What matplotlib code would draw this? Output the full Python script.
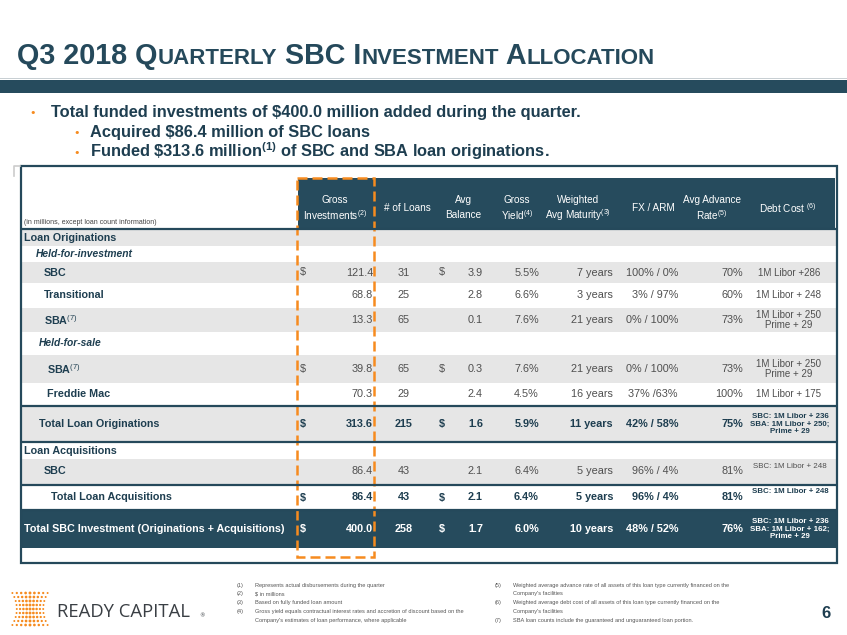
import numpy as np
import matplotlib
matplotlib.use("Agg")
from matplotlib import pyplot as plt
from matplotlib import font_manager
from matplotlib.patches import Rectangle

# ==============================================================================
# DATA
# ==============================================================================
title_pieces = [("Q3 2018 Q", True), ("UARTERLY", False), (" SBC I", True),
                ("NVESTMENT", False), (" A", True), ("LLOCATION", False)]

bullets = [
    "Total funded investments of \\$400.0 million added during the quarter.",
    "Acquired \\$86.4 million of SBC loans",
    "Funded \\$313.6 million$^{\\mathbf{(1)}}$ of SBC and SBA loan originations.",
]

header_labels = ["Gross\nInvestments$^{(2)}$", "# of Loans", "Avg\nBalance", "Gross\nYield$^{(4)}$",
                 "Weighted\nAvg Maturity$^{(3)}$", "FX / ARM", "Avg Advance\nRate$^{(5)}$",
                 "Debt Cost $^{(6)}$"]

row_labels = ["Loan Originations", "Held-for-investment", "SBC", "Transitional", "SBA$^{(7)}$",
              "Held-for-sale", "SBA$^{(7)}$", "Freddie Mac", "Total Loan Originations",
              "Loan Acquisitions", "SBC", "Total Loan Acquisitions",
              "Total SBC Investment (Originations + Acquisitions)"]
row_kind = ["section", "sub", "item", "item", "item", "sub", "item", "item", "total",
            "section", "item", "total", "grand"]

gross_inv = [None, None, 121.4, 68.8, 13.3, None, 39.8, 70.3, 313.6, None, 86.4, 86.4, 400.0]
show_dollar = [False, False, True, False, False, False, True, False, True, False, False, True, True]
num_loans = [None, None, 31, 25, 65, None, 65, 29, 215, None, 43, 43, 258]
avg_balance = [None, None, 3.9, 2.8, 0.1, None, 0.3, 2.4, 1.6, None, 2.1, 2.1, 1.7]
gross_yield = [None, None, 5.5, 6.6, 7.6, None, 7.6, 4.5, 5.9, None, 6.4, 6.4, 6.0]
maturity_years = [None, None, 7, 3, 21, None, 21, 16, 11, None, 5, 5, 10]
fx_arm = [None, None, "100% / 0%", "3% / 97%", "0% / 100%", None, "0% / 100%", "37% /63%",
          "42% / 58%", None, "96% / 4%", "96% / 4%", "48% / 52%"]
advance_rate = [None, None, 70, 60, 73, None, 73, 100, 75, None, 81, 81, 76]
debt_cost = [None, None, "1M Libor +286", "1M Libor + 248", "1M Libor + 250\nPrime + 29", None,
             "1M Libor + 250\nPrime + 29", "1M Libor + 175",
             "SBC: 1M Libor + 236\nSBA: 1M Libor + 250;\nPrime + 29", None,
             "SBC: 1M Libor + 248", "SBC: 1M Libor + 248",
             "SBC: 1M Libor + 236\nSBA: 1M Libor + 162;\nPrime + 29"]

footnotes_left = [("(1)", "Represents actual disbursements during the quarter"),
                  ("(2)", "$ in millions"),
                  ("(3)", "Based on fully funded loan amount"),
                  ("(4)", "Gross yield equals contractual interest rates and accretion of discount based on the"),
                  ("", "Company's estimates of loan performance, where applicable")]
footnotes_right = [("(5)", "Weighted average advance rate of all assets of this loan type currently financed on the"),
                   ("", "Company's facilities"),
                   ("(6)", "Weighted average debt cost of all assets of this loan type currently financed on the"),
                   ("", "Company's facilities"),
                   ("(7)", "SBA loan counts include the guaranteed and unguaranteed loan portion.")]

# ==============================================================================
# LAYOUT / STYLE
# ==============================================================================
row_edges = [(230, 246), (246, 262), (262, 283), (283, 308), (308, 332), (332, 355), (355, 383),
             (383, 405), (407, 441), (443, 459), (459, 484), (486, 509), (510, 548)]
label_x = [24, 36, 44, 44, 44, 39, 47, 47, 39, 24, 44, 51, 24]
debt_dy = [0, 0, 0, 0, 0, 0, 0, 0, 0, 0, -5, -6, 0]
header_x = [335, 407, 463, 517, 578, 653, 712, 788]

TEAL = "#25495b"
BAND = "#264b5d"
DARK = "#1e3e50"
GREY = "#4f4f4f"
LIGHT = "#e6e6e6"
ORANGE = "#f68b1f"

installed = {f.name for f in font_manager.fontManager.ttflist}
if "Liberation Sans Narrow" in installed:
    TABLE_FONT, K = "Liberation Sans Narrow", 1.0
else:
    TABLE_FONT, K = "Liberation Sans", 0.82

plt.rcParams["mathtext.fontset"] = "custom"
plt.rcParams["mathtext.rm"] = "Liberation Sans"
plt.rcParams["mathtext.bf"] = "Liberation Sans:bold"
plt.rcParams["mathtext.it"] = "Liberation Sans:italic"

fig = plt.figure(figsize=(8.47, 6.35), dpi=100)
ax = fig.add_axes([0, 0, 1, 1])
ax.set_xlim(0, 847)
ax.set_ylim(635, 0)
ax.axis("off")
renderer = fig.canvas.get_renderer()


def put(x, y, s, size, color=GREY, weight="normal", ha="left", va="center", style="normal",
        family=None, math=False, **kw):
    return ax.text(x, y, s, fontsize=size, color=color, fontweight=weight, ha=ha, va=va,
                   fontstyle=style, family=family or TABLE_FONT, parse_math=math, **kw)


# Title with small caps.
x_cur = 17
for piece, big in title_pieces:
    t = put(x_cur, 64, piece, 20.7 if big else 16, color=TEAL, weight="bold", va="baseline",
            family="Liberation Sans")
    x_cur += t.get_window_extent(renderer).width

# Title band.
ax.add_patch(Rectangle((0, 78), 847, 1.2, color="#c8cfd3", lw=0))
ax.add_patch(Rectangle((0, 79.5), 847, 13.5, color=BAND, lw=0))

# Bullets.
bullet_pos = [(33, 51, 117), (77, 90, 137), (77, 90, 157)]
for (bx, tx, by), txt in zip(bullet_pos, bullets):
    put(bx, by - 4, "\u2022", 8, color=ORANGE, ha="center", family="DejaVu Sans")
    put(tx, by, txt, 11.8, color=DARK, weight="bold", va="baseline", family="Liberation Sans",
        math=True)

# Table background bands.
for i, (y0, y1) in enumerate(row_edges):
    if row_kind[i] == "grand":
        ax.add_patch(Rectangle((21, y0), 816, y1 - y0, color=BAND, lw=0))
    elif i % 2 == 0:
        ax.add_patch(Rectangle((21, y0), 816, y1 - y0, color=LIGHT, lw=0))

# Header band and rules.
ax.add_patch(Rectangle((298, 178), 537, 51, color=BAND, lw=0))
for yl in [229, 406, 442, 485, 509.5]:
    ax.plot([21, 837], [yl, yl], color=TEAL, lw=1.6, solid_capstyle="butt")
ax.add_patch(Rectangle((21, 166), 816, 397, fill=False, edgecolor=TEAL, lw=1.6))
ax.plot([14, 14, 20], [176, 166, 166], color="#cccccc", lw=1.2)

put(24, 223, "(in millions, except loan count information)", 6.2 * K, color="#444444")
for hx, lab in zip(header_x, header_labels):
    lines = lab.split("\n")
    ys = [208] if len(lines) == 1 else [200, 215]
    for ln, hy in zip(lines, ys):
        put(hx, hy, ln, 8.8 * K, color="white", ha="center", math=True)

# Rows.
for i, lab in enumerate(row_labels):
    y0, y1 = row_edges[i]
    yc = (y0 + y1) / 2
    kind = row_kind[i]
    if kind == "grand":
        col, w = "white", "bold"
    elif kind == "total":
        col, w = DARK, "bold"
    else:
        col, w = GREY, "normal"
    lab_size = 9 * K if kind == "sub" else 9.5 * K
    put(label_x[i], yc, lab, lab_size, color="white" if kind == "grand" else DARK, weight="bold",
        style="italic" if kind == "sub" else "normal", math=True)
    if gross_inv[i] is None:
        continue
    vs = 9.6 * K
    if show_dollar[i]:
        put(300, yc, "$", vs, color=col, weight=w)
        put(439, yc, "$", vs, color=col, weight=w)
    put(373, yc, f"{gross_inv[i]:.1f}", vs, color=col, weight=w, ha="right")
    put(404, yc, f"{num_loans[i]}", vs, color=col, weight=w, ha="center")
    put(483, yc, f"{avg_balance[i]:.1f}", vs, color=col, weight=w, ha="right")
    put(539, yc, f"{gross_yield[i]:.1f}%", vs, color=col, weight=w, ha="right")
    put(613, yc, f"{maturity_years[i]} years", vs, color=col, weight=w, ha="right")
    put(678, yc, fx_arm[i], vs, color=col, weight=w, ha="right")
    put(743, yc, f"{advance_rate[i]}%", vs, color=col, weight=w, ha="right")
    dc = debt_cost[i]
    if dc.startswith("SBC"):
        put(790, yc + debt_dy[i], dc, 6.9 * K, color=col, weight=w, ha="center", linespacing=1.1)
    else:
        put(789, yc, dc, 8.6 * K, color=GREY, ha="center", linespacing=1.0)

# Orange dashed highlight around gross investments.
ax.add_patch(Rectangle((297, 178), 77, 379, fill=False, edgecolor=ORANGE, lw=1.8,
                       linestyle=(0, (4, 2))))

# Footnotes.
for col_x, notes in [(237, footnotes_left), (495, footnotes_right)]:
    for k, (num, txt) in enumerate(notes):
        fy = 585 + k * 8.8
        put(col_x, fy, num, 5.0 * K, color="#555555")
        put(col_x + 18, fy, txt, 5.0 * K, color="#555555")

# Logo.
for j in range(9):
    pinch = 1 - 0.25 * (1 - ((j - 4) / 4) ** 2)
    xs = 30 + (np.arange(9) - 4) * 4.4 * pinch
    sz = 4.5 * (1 - 0.55 * np.abs(np.arange(9) - 4) / 4)
    ax.scatter(xs, np.full(9, 593 + j * 4), s=sz, color=ORANGE, lw=0)
put(57, 612, "READY CAPITAL", 13.3, color="#3a3f44", family="Open Sans")
put(199, 616, "\u00ae", 4, color="#3a3f44", family="DejaVu Sans")
put(826, 614, "6", 12, color=DARK, weight="bold", ha="center", family="Liberation Sans")

fig.savefig("out.png", dpi=100)
